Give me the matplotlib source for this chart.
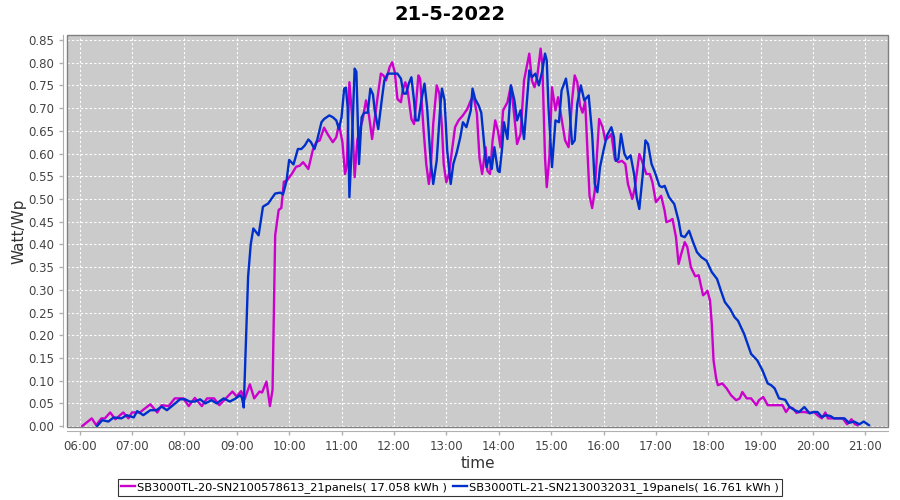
import matplotlib
matplotlib.use("Agg")
import matplotlib.pyplot as plt
from matplotlib.patches import Rectangle

# SB3000TL-20 (magenta) -- time, Watt/Wp
sb20_time = [
    "06:03", "06:14", "06:19", "06:25", "06:29", "06:35", "06:41", "06:50", "06:56", "07:00",
    "07:09", "07:21", "07:29", "07:34", "07:42", "07:49", "07:59", "08:05", "08:12", "08:20",
    "08:26", "08:34", "08:40", "08:47", "08:55", "09:00", "09:05", "09:09", "09:15", "09:20",
    "09:26", "09:29", "09:34", "09:38", "09:41", "09:44", "09:48", "09:51", "09:54", "09:57",
    "10:03", "10:08", "10:12", "10:16", "10:22", "10:27", "10:31", "10:35", "10:40", "10:44",
    "10:50", "10:54", "10:57", "11:01", "11:04", "11:06", "11:09", "11:12", "11:15", "11:18",
    "11:21", "11:24", "11:28", "11:31", "11:35", "11:41", "11:45", "11:48", "11:51", "11:55",
    "11:58", "12:01", "12:04", "12:08", "12:10", "12:13", "12:16", "12:20", "12:23", "12:25",
    "12:28", "12:30", "12:34", "12:37", "12:40", "12:42", "12:45", "12:49", "12:52", "12:55",
    "12:57", "13:00", "13:03", "13:06", "13:10", "13:14", "13:19", "13:24", "13:28", "13:31",
    "13:35", "13:38", "13:41", "13:45", "13:47", "13:50", "13:53", "13:56", "13:59", "14:02",
    "14:05", "14:10", "14:14", "14:18", "14:21", "14:25", "14:29", "14:35", "14:38", "14:41",
    "14:44", "14:48", "14:50", "14:53", "14:55", "14:58", "15:01", "15:05", "15:08", "15:12",
    "15:16", "15:20", "15:24", "15:27", "15:30", "15:33", "15:36", "15:39", "15:44", "15:47",
    "15:50", "15:55", "15:59", "16:02", "16:06", "16:09", "16:13", "16:17", "16:21", "16:25",
    "16:28", "16:33", "16:36", "16:41", "16:44", "16:49", "16:53", "16:56", "17:00", "17:03",
    "17:06", "17:10", "17:12", "17:16", "17:19", "17:23", "17:26", "17:29", "17:33", "17:36",
    "17:40", "17:45", "17:49", "17:54", "17:56", "17:59", "18:02", "18:04", "18:06", "18:09",
    "18:11", "18:16", "18:21", "18:26", "18:32", "18:36", "18:39", "18:44", "18:49", "18:55",
    "18:58", "19:03", "19:08", "19:14", "19:20", "19:25", "19:29", "19:33", "19:37", "19:41",
    "19:44", "19:50", "19:56", "20:01", "20:05", "20:10", "20:14", "20:17", "20:22", "20:28",
    "20:34", "20:39", "20:44", "20:48", "20:51",
]
sb20_vals = [
    0.000, 0.017, 0.002, 0.017, 0.017, 0.030, 0.015, 0.030, 0.017, 0.030,
    0.030, 0.048, 0.030, 0.046, 0.044, 0.061, 0.061, 0.044, 0.062, 0.044,
    0.061, 0.061, 0.046, 0.060, 0.076, 0.065, 0.077, 0.059, 0.092, 0.061,
    0.076, 0.074, 0.098, 0.044, 0.080, 0.420, 0.476, 0.480, 0.538, 0.540,
    0.555, 0.571, 0.573, 0.581, 0.566, 0.607, 0.625, 0.629, 0.657, 0.643,
    0.625, 0.636, 0.665, 0.625, 0.555, 0.573, 0.757, 0.684, 0.548, 0.629,
    0.654, 0.673, 0.717, 0.690, 0.632, 0.720, 0.776, 0.772, 0.761, 0.790,
    0.801, 0.779, 0.720, 0.713, 0.739, 0.757, 0.735, 0.676, 0.665, 0.702,
    0.772, 0.765, 0.651, 0.577, 0.533, 0.562, 0.665, 0.750, 0.732, 0.658,
    0.577, 0.537, 0.555, 0.600, 0.658, 0.673, 0.684, 0.698, 0.717, 0.728,
    0.688, 0.590, 0.555, 0.614, 0.562, 0.555, 0.629, 0.673, 0.651, 0.614,
    0.695, 0.713, 0.750, 0.680, 0.621, 0.643, 0.761, 0.820, 0.761, 0.746,
    0.768, 0.831, 0.794, 0.592, 0.526, 0.592, 0.746, 0.695, 0.724, 0.676,
    0.629, 0.614, 0.717, 0.772, 0.757, 0.706, 0.690, 0.715, 0.507, 0.480,
    0.518, 0.676, 0.658, 0.629, 0.636, 0.643, 0.588, 0.581, 0.584, 0.577,
    0.533, 0.500, 0.526, 0.599, 0.584, 0.555, 0.555, 0.537, 0.493, 0.500,
    0.507, 0.474, 0.449, 0.452, 0.456, 0.416, 0.357, 0.379, 0.405, 0.394,
    0.350, 0.330, 0.332, 0.288, 0.291, 0.298, 0.276, 0.225, 0.145, 0.105,
    0.090, 0.094, 0.083, 0.068, 0.057, 0.061, 0.075, 0.061, 0.061, 0.046,
    0.057, 0.064, 0.046, 0.046, 0.046, 0.046, 0.031, 0.042, 0.039, 0.029,
    0.031, 0.031, 0.029, 0.031, 0.024, 0.017, 0.030, 0.017, 0.017, 0.017,
    0.017, 0.004, 0.015, 0.004, 0.002,
]

# SB3000TL-21 (blue)
sb21_time = [
    "06:20", "06:26", "06:33", "06:39", "06:48", "06:54", "07:02", "07:06", "07:13", "07:21",
    "07:28", "07:34", "07:40", "07:47", "07:55", "08:01", "08:06", "08:12", "08:18", "08:24",
    "08:31", "08:37", "08:45", "08:52", "08:58", "09:04", "09:06", "09:08", "09:13", "09:16",
    "09:19", "09:25", "09:30", "09:36", "09:44", "09:50", "09:53", "09:57", "10:00", "10:05",
    "10:10", "10:14", "10:18", "10:22", "10:25", "10:29", "10:32", "10:37", "10:40", "10:46",
    "10:50", "10:54", "10:57", "11:00", "11:03", "11:05", "11:07", "11:09", "11:12", "11:15",
    "11:17", "11:20", "11:23", "11:26", "11:30", "11:33", "11:36", "11:38", "11:42", "11:46",
    "11:49", "11:53", "11:59", "12:04", "12:08", "12:11", "12:14", "12:17", "12:20", "12:23",
    "12:25", "12:28", "12:32", "12:35", "12:38", "12:42", "12:45", "12:49", "12:53", "12:55",
    "12:58", "13:01", "13:05", "13:08", "13:12", "13:16", "13:19", "13:23", "13:28", "13:30",
    "13:33", "13:37", "13:40", "13:44", "13:46", "13:49", "13:52", "13:55", "13:59", "14:01",
    "14:04", "14:06", "14:10", "14:14", "14:18", "14:21", "14:25", "14:29", "14:35", "14:38",
    "14:42", "14:46", "14:50", "14:53", "14:55", "14:57", "15:01", "15:05", "15:09", "15:12",
    "15:17", "15:20", "15:24", "15:27", "15:30", "15:34", "15:38", "15:43", "15:47", "15:50",
    "15:53", "15:56", "16:00", "16:04", "16:09", "16:12", "16:14", "16:17", "16:20", "16:24",
    "16:27", "16:31", "16:35", "16:38", "16:41", "16:45", "16:48", "16:51", "16:55", "16:59",
    "17:04", "17:07", "17:10", "17:15", "17:21", "17:26", "17:29", "17:33", "17:38", "17:42",
    "17:47", "17:52", "17:58", "18:04", "18:10", "18:15", "18:19", "18:25", "18:30", "18:34",
    "18:41", "18:49", "18:56", "19:02", "19:08", "19:12", "19:16", "19:21", "19:28", "19:33",
    "19:39", "19:44", "19:50", "19:56", "20:01", "20:05", "20:10", "20:15", "20:20", "20:24",
    "20:30", "20:36", "20:41", "20:47", "20:53", "20:58", "21:04",
]
sb21_vals = [
    0.000, 0.013, 0.010, 0.019, 0.017, 0.024, 0.019, 0.033, 0.024, 0.035,
    0.035, 0.043, 0.035, 0.046, 0.059, 0.059, 0.054, 0.054, 0.059, 0.050,
    0.057, 0.050, 0.061, 0.054, 0.060, 0.068, 0.062, 0.041, 0.329, 0.400,
    0.435, 0.420, 0.483, 0.490, 0.512, 0.514, 0.510, 0.540, 0.586, 0.576,
    0.610, 0.610, 0.618, 0.631, 0.625, 0.610, 0.629, 0.669, 0.676, 0.684,
    0.680, 0.673, 0.654, 0.680, 0.743, 0.745, 0.702, 0.504, 0.629, 0.787,
    0.780, 0.577, 0.680, 0.690, 0.690, 0.743, 0.730, 0.695, 0.654, 0.717,
    0.761, 0.776, 0.776, 0.776, 0.765, 0.732, 0.732, 0.754, 0.768, 0.717,
    0.673, 0.673, 0.724, 0.754, 0.702, 0.585, 0.533, 0.585, 0.702, 0.743,
    0.717, 0.607, 0.533, 0.577, 0.603, 0.636, 0.669, 0.658, 0.695, 0.743,
    0.720, 0.706, 0.690, 0.607, 0.570, 0.592, 0.566, 0.614, 0.562, 0.559,
    0.614, 0.669, 0.632, 0.750, 0.717, 0.673, 0.695, 0.632, 0.783, 0.768,
    0.776, 0.750, 0.783, 0.820, 0.805, 0.702, 0.570, 0.673, 0.669, 0.739,
    0.765, 0.724, 0.621, 0.629, 0.710, 0.750, 0.717, 0.728, 0.643, 0.533,
    0.515, 0.570, 0.607, 0.640, 0.658, 0.636, 0.584, 0.588, 0.643, 0.599,
    0.588, 0.596, 0.555, 0.504, 0.478, 0.555, 0.629, 0.621, 0.577, 0.558,
    0.529, 0.526, 0.529, 0.504, 0.489, 0.452, 0.419, 0.416, 0.430, 0.408,
    0.383, 0.372, 0.364, 0.339, 0.324, 0.295, 0.273, 0.258, 0.240, 0.232,
    0.203, 0.159, 0.145, 0.123, 0.094, 0.090, 0.083, 0.061, 0.058, 0.042,
    0.035, 0.031, 0.042, 0.028, 0.031, 0.031, 0.020, 0.024, 0.022, 0.017,
    0.017, 0.017, 0.007, 0.010, 0.004, 0.010, 0.002,
]

sb20_label = "SB3000TL-20-SN2100578613_21panels( 17.058 kWh )"
sb21_label = "SB3000TL-21-SN2130032031_19panels( 16.761 kWh )"
hours = list(range(6, 22))
y_ticks = [i * 0.05 for i in range(18)]


def to_hours(t):
    h, m = t.split(":")
    return int(h) + int(m) / 60


fig = plt.figure(figsize=(9, 5), dpi=100)
ax = fig.add_axes([67 / 900, 1 - 427 / 500, 821 / 900, 392 / 500])
ax.set_facecolor("#cbcbcb")

ax.plot([to_hours(t) for t in sb20_time], sb20_vals, color="#cc00cc", lw=1.7,
        solid_joinstyle="round", label=sb20_label)
ax.plot([to_hours(t) for t in sb21_time], sb21_vals, color="#0030cc", lw=1.7,
        solid_joinstyle="round", label=sb21_label)

ax.set_xlim(5.76, 21.43)
ax.set_ylim(-0.002, 0.861)
ax.set_xticks(hours)
ax.set_xticklabels([f"{h:02d}:00" for h in hours])
ax.set_yticks(y_ticks)
ax.set_yticklabels([f"{v:.2f}" for v in y_ticks])
ax.grid(True, color="white", linestyle=(0, (2, 2)), linewidth=0.8)
ax.set_axisbelow(True)

# JFreeChart-ish axes: light axis lines offset from the dark plot outline
for side in ["top", "right"]:
    ax.spines[side].set_visible(False)
for side in ["left", "bottom"]:
    ax.spines[side].set_position(("outward", 3))
    ax.spines[side].set_color("#b0b0b0")
ax.add_patch(Rectangle((0, 0), 1, 1, transform=ax.transAxes, fill=False,
                       edgecolor="#808080", lw=1, clip_on=False, zorder=5))
ax.tick_params(axis="both", colors="#b0b0b0", labelcolor="#444444", labelsize=8.5,
               length=3, width=1)

ax.set_xlabel("time", fontsize=11, color="#333333", labelpad=2)
ax.set_ylabel("Watt/Wp", fontsize=11, color="#333333", labelpad=1)
fig.suptitle("21-5-2022", y=0.99, fontsize=14, fontweight="bold")

leg = fig.legend(loc="center", bbox_to_anchor=(0.5, 1 - 487.5 / 500), ncol=2, frameon=True,
                 fancybox=False, fontsize=8.2, handlelength=1.2, handletextpad=0.2,
                 columnspacing=0.5, borderpad=0.3, borderaxespad=0)
leg.get_frame().set_edgecolor("black")
leg.get_frame().set_linewidth(0.8)

fig.savefig("out.png", dpi=100)
